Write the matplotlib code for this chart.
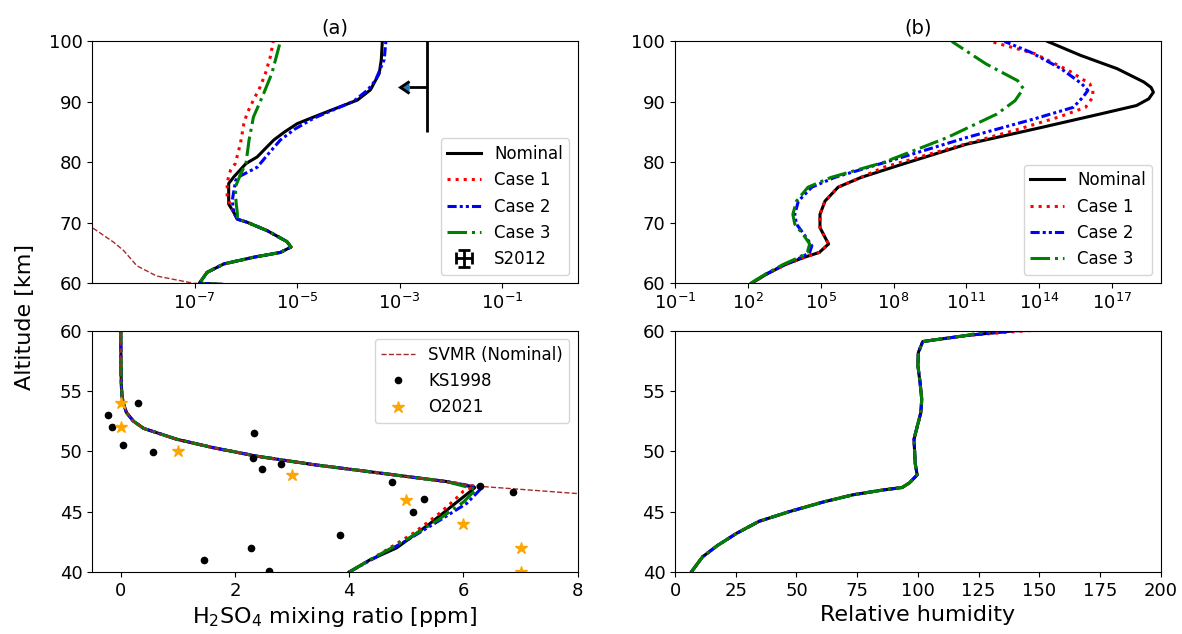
import numpy as np
import matplotlib.pyplot as plt

plt.rcParams['font.size'] = 13

# ---------------- H2SO4 [ppm] ----------------
# 40-47 km, differs per case
alt_h2so4_low_nom = [40, 41, 42, 44, 46, 46.6, 47.0]
h2so4_low_nom = [4.0, 4.36, 4.83, 5.41, 5.94, 6.1, 6.2]
alt_h2so4_low_c1 = [40, 41.5, 43.2, 44.9, 46.0, 46.7, 47.1]
h2so4_low_c1 = [4.0, 4.54, 5.12, 5.59, 5.85, 6.0, 6.2]
alt_h2so4_low_c2 = [40, 41.1, 42.6, 44.3, 45.7, 46.97]
h2so4_low_c2 = [4.0, 4.42, 5.0, 5.59, 6.06, 6.32]
alt_h2so4_low_c3 = [40, 41.1, 42.6, 44.3, 45.8, 46.85]
h2so4_low_c3 = [4.0, 4.40, 4.97, 5.55, 6.0, 6.22]

# 47.5-70.6 km, same for all cases
alt_h2so4_mid = [47.5, 48.2, 48.9, 49.6, 50.3, 51.0, 51.9, 52.5, 53.2, 54.0, 54.6, 55.5, 57.0, 58.5,
                 60, 61.8, 63.2, 64.3, 65.1, 66.0, 66.9, 68.7, 70.1, 70.6]
h2so4_mid = [5.7, 4.54, 3.37, 2.38, 1.62, 0.98, 0.40, 0.22, 0.10, 0.04, 0.02, 0.008, 0.002, 4e-4,
             1.23e-7, 1.74e-7, 3.7e-7, 1.4e-6, 4.7e-6, 7.6e-6, 6.3e-6, 2.6e-6, 1.05e-6, 6.8e-7]

# above ~71 km, differs per case
alt_h2so4_up_nom = [71.7, 73.1, 76.5, 77.6, 79.8, 80.9, 82.3, 83.7, 85.0, 86.4, 87.5, 88.6, 90.3, 92.0, 94.7, 97.0, 100]
h2so4_up_nom = [5.8e-7, 4.6e-7, 4.6e-7, 5.8e-7, 1.0e-6, 1.66e-6, 2.4e-6, 3.5e-6, 5.6e-6, 1.0e-5, 2.1e-5,
                4.5e-5, 1.5e-4, 2.7e-4, 4.0e-4, 4.4e-4, 4.6e-4]
alt_h2so4_up_c1 = [71.7, 74.2, 76.7, 78.7, 79.8, 83.1, 86.4, 88.1, 90.3, 92.5, 94.7, 97.5, 100]
h2so4_up_c1 = [5.8e-7, 4.3e-7, 4.3e-7, 5.0e-7, 6.2e-7, 7.8e-7, 9.1e-7, 1.05e-6, 1.4e-6, 1.9e-6, 2.4e-6, 3.0e-6, 3.4e-6]
alt_h2so4_up_c2 = [71.7, 73.7, 77.0, 77.6, 79.2, 81.5, 83.7, 85.5, 87.3, 88.8, 90.1, 92.0, 93.6, 97.0, 100]
h2so4_up_c2 = [5.8e-7, 5.4e-7, 6.3e-7, 7.2e-7, 1.66e-6, 2.8e-6, 4.7e-6, 9.0e-6, 2.1e-5, 5.5e-5, 1.26e-4,
               2.4e-4, 3.4e-4, 5.0e-4, 5.4e-4]
alt_h2so4_up_c3 = [71.5, 73.5, 75.9, 78.1, 79.8, 83.7, 87.5, 90.9, 94.7, 98.1, 100]
h2so4_up_c3 = [6.8e-7, 6.4e-7, 6.2e-7, 7.9e-7, 1.0e-6, 1.15e-6, 1.4e-6, 2.1e-6, 3.2e-6, 4.1e-6, 4.7e-6]

# saturation vapour mixing ratio (nominal)
alt_svmr = [46.0, 46.5, 47.1, 47.5, 48.2, 48.9, 49.6, 50.3, 51.0, 51.9, 52.5, 53.2, 54.0, 54.6, 55.5, 57.0, 58.5,
            60, 61.2, 62.9, 65.4, 66.8, 69.2, 71]
svmr = [9.4, 8.0, 6.29, 5.7, 4.54, 3.37, 2.38, 1.62, 0.98, 0.40, 0.22, 0.10, 0.04, 0.02, 0.008, 0.002, 4e-4,
        9.5e-8, 1.8e-8, 7.4e-9, 4.1e-9, 2.6e-9, 1.0e-9, 6e-10]

# observations
alt_ks = [53.0, 52.03, 54.03, 50.5, 49.94, 51.5, 49.47, 48.5, 48.97, 47.5, 47.1, 46.6, 46.08, 45.0, 43.03, 41.97, 41.0, 40.08]
ks1998 = [-0.23, -0.15, 0.30, 0.03, 0.57, 2.34, 2.32, 2.47, 2.80, 4.74, 6.29, 6.86, 5.31, 5.12, 3.83, 2.28, 1.45, 2.60]
alt_o21 = [54, 52, 50, 48, 46, 44, 42, 40]
o2021 = [0, 0, 1, 3, 5, 6, 7, 7]
# S2012 upper limit
alt_s12 = [92.5]
s2012 = [3.5e-3]
s2012_xerr = [2.0e-3]
s2012_yerr = [7.5]

# ---------------- Relative humidity ----------------
alt_rh_low = [40, 41.25, 42.2, 43.2, 44.2, 45.0, 45.8, 46.4, 46.8, 47.0, 47.4, 48.05, 49.0, 51.0, 51.8,
              53.2, 54.3, 55.7, 57.1, 58.2, 59.1, 59.6]
rh_low = [6.7, 11.3, 17.5, 25.3, 34.6, 47, 61, 73.3, 85.7, 93.5, 96.6, 99.7, 98.9, 98.4, 99.4,
          101.2, 101.6, 100.9, 100.0, 100.2, 102, 119.8]

alt_rh_nom = [60, 61.5, 63.1, 64.3, 65.1, 66.5, 67.6, 69.2, 71.4, 73.6, 75.9, 77.5, 79.7, 83.0, 85.8,
              88.0, 89.4, 90.5, 91.6, 92.4, 93.3, 95.5, 97.7, 100]
rh_nom = [1.4e2, 5.8e2, 3.5e3, 2.1e4, 8.7e4, 2.1e5, 1.5e5, 9.3e4, 9.3e4, 1.5e5, 5.2e5, 4.5e6, 2.3e8, 1e11, 1.3e14,
          3.2e16, 1e18, 3.2e18, 5e18, 4e18, 2e18, 1.6e17, 5e15, 2.2e14]
alt_rh_c1 = [60, 61.5, 63.1, 64.3, 65.1, 66.5, 67.6, 69.2, 71.4, 73.6, 75.9, 76.9, 79.2, 82.2, 85.2,
             87.5, 89.1, 90.8, 91.9, 93.0, 95.2, 98.0, 100]
rh_c1 = [1.45e2, 5.8e2, 3.5e3, 2.1e4, 8.7e4, 2.1e5, 1.5e5, 9.3e4, 9.3e4, 1.5e5, 5.2e5, 2.0e6, 4.0e7, 1.6e10, 8e12,
         6.3e14, 8e15, 1.6e16, 1.6e16, 1.2e16, 1.6e15, 6.3e13, 1e12]
alt_rh_c2 = [60, 61.5, 63.1, 64.3, 65.1, 66.2, 67.6, 69.8, 71.4, 73.6, 75.9, 77.5, 80.3, 84.1, 87.2,
             89.1, 90.8, 91.9, 93.0, 95.5, 98.2, 100]
rh_c2 = [1.4e2, 5.5e2, 3.2e3, 1.6e4, 3.5e4, 4.3e4, 2.5e4, 1.0e4, 8.5e3, 1.2e4, 4.3e4, 3.7e5, 7.9e7, 1e11, 6.3e13,
         2.5e15, 6.3e15, 1e16, 5.6e15, 7.9e14, 4.5e13, 3.7e12]
alt_rh_c3 = [60, 61.5, 63.1, 64.3, 65.1, 66.5, 67.8, 69.8, 71.4, 73.6, 75.9, 77.5, 80.0, 84.1, 88.0,
             90.2, 92.2, 93.5, 96.3, 100]
rh_c3 = [1.3e2, 5.2e2, 2.8e3, 1.3e4, 2.8e4, 3.5e4, 2.1e4, 8.5e3, 7.1e3, 1.0e4, 3.0e4, 2.6e5, 3.9e7, 1.6e10, 1.8e12,
         1e13, 2.2e13, 1.3e13, 6.3e11, 2.5e10]

# build full profiles
def prof(a1, v1, a2, v2, a3=None, v3=None):
    a = list(a1) + list(a2)
    v = list(v1) + list(v2)
    if a3 is not None:
        a += list(a3)
        v += list(v3)
    return np.array(a), np.array(v)

h2 = {
    'Nominal': prof(alt_h2so4_low_nom, h2so4_low_nom, alt_h2so4_mid, h2so4_mid, alt_h2so4_up_nom, h2so4_up_nom),
    'Case 1': prof(alt_h2so4_low_c1, h2so4_low_c1, alt_h2so4_mid, h2so4_mid, alt_h2so4_up_c1, h2so4_up_c1),
    'Case 2': prof(alt_h2so4_low_c2, h2so4_low_c2, alt_h2so4_mid, h2so4_mid, alt_h2so4_up_c2, h2so4_up_c2),
    'Case 3': prof(alt_h2so4_low_c3, h2so4_low_c3, alt_h2so4_mid, h2so4_mid, alt_h2so4_up_c3, h2so4_up_c3),
}
rh = {
    'Nominal': prof(alt_rh_low, rh_low, alt_rh_nom, rh_nom),
    'Case 1': prof(alt_rh_low, rh_low, alt_rh_c1, rh_c1),
    'Case 2': prof(alt_rh_low, rh_low, alt_rh_c2, rh_c2),
    'Case 3': prof(alt_rh_low, rh_low, alt_rh_c3, rh_c3),
}
styles = {
    'Nominal': dict(color='k', ls='-'),
    'Case 1': dict(color='r', ls=':'),
    'Case 2': dict(color='b', ls=(0, (3, 1, 1, 1, 1, 1))),
    'Case 3': dict(color='g', ls='-.'),
}

fig = plt.figure(figsize=(11.82, 6.34), dpi=100)
ax1 = fig.add_axes([0.0781, 0.5532, 0.4106, 0.3814])  # (a) top
ax2 = fig.add_axes([0.5711, 0.5532, 0.4109, 0.3814])  # (b) top
ax3 = fig.add_axes([0.0781, 0.0978, 0.4106, 0.3806])  # (a) bottom
ax4 = fig.add_axes([0.5711, 0.0978, 0.4109, 0.3806])  # (b) bottom

for name in h2:
    a, v = h2[name]
    ax1.plot(v, a, lw=2.2, label=name, **styles[name])
    ax3.plot(v, a, lw=2.2, **styles[name])
    a, v = rh[name]
    ax2.plot(v, a, lw=2.2, label=name, **styles[name])
    ax4.plot(v, a, lw=2.2, **styles[name])

ax1.plot(svmr, alt_svmr, '--', color='brown', lw=1)
ax3.plot(svmr, alt_svmr, '--', color='brown', lw=1, label='SVMR (Nominal)')
ax3.plot(ks1998, alt_ks, 'o', color='k', ms=4.5, label='KS1998')
ax3.plot(o2021, alt_o21, '*', color='orange', ms=9, label='O2021')

# S2012: upper limit
eb = ax1.errorbar(s2012, alt_s12, xerr=s2012_xerr, yerr=s2012_yerr, xuplims=True,
                  fmt='none', ecolor='k', elinewidth=2, capsize=4.5, capthick=2, label='S2012')
for cl in eb[1][1:]:
    cl.set_visible(False)

ax1.set_xscale('log')
ax1.set_xlim(1e-9, 3)
ax1.set_xticks([1e-7, 1e-5, 1e-3, 1e-1])
ax1.minorticks_off()
ax1.set_ylim(60, 100)
ax1.set_yticks([60, 70, 80, 90, 100])
ax1.set_title('(a)', fontsize=14)
ax1.legend(loc='lower right', fontsize=12)

ax2.set_xscale('log')
ax2.set_xlim(1e-1, 1e19)
ax2.set_xticks([1e-1, 1e2, 1e5, 1e8, 1e11, 1e14, 1e17])
ax2.minorticks_off()
ax2.set_ylim(60, 100)
ax2.set_yticks([60, 70, 80, 90, 100])
ax2.set_title('(b)', fontsize=14)
ax2.legend(loc='lower right', fontsize=12)

ax3.set_xlim(-0.5, 8)
ax3.set_ylim(40, 60)
ax3.set_xticks([0, 2, 4, 6, 8])
ax3.set_yticks([40, 45, 50, 55, 60])
ax3.set_xlabel('H$_2$SO$_4$ mixing ratio [ppm]', fontsize=16)
ax3.legend(loc='upper right', fontsize=12)

ax4.set_xlim(0, 200)
ax4.set_ylim(40, 60)
ax4.set_xticks([0, 25, 50, 75, 100, 125, 150, 175, 200])
ax4.set_yticks([40, 45, 50, 55, 60])
ax4.set_xlabel('Relative humidity', fontsize=16)

fig.text(0.021, 0.5, 'Altitude [km]', rotation=90, ha='center', va='center', fontsize=16)

plt.savefig('out.png', dpi=100)
